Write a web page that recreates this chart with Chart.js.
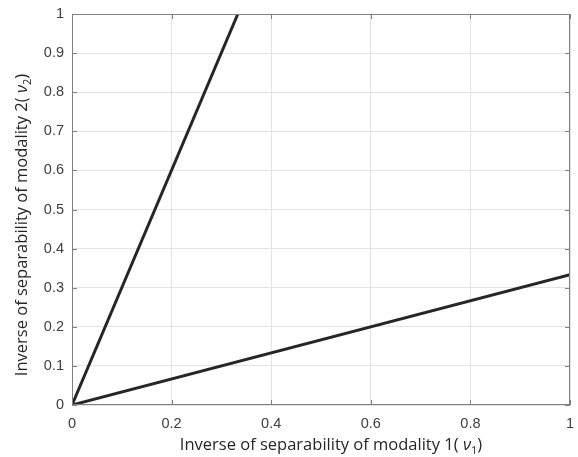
<!DOCTYPE html>
<html>
<head>
<meta charset="utf-8">
<script src="https://cdn.jsdelivr.net/npm/chart.js@4"></script>
<style>
  html, body { margin: 0; padding: 0; background: #fff; }
  #wrap { width: 578px; height: 457px; }
</style>
</head>
<body>
<div id="wrap"><canvas id="chart"></canvas></div>
<script>
// data
const steepX = [0, 0.333];
const steepY = [0, 1];
const flatX = [0, 1];
const flatY = [0, 0.333];
const xTicks = [0, 0.2, 0.4, 0.6, 0.8, 1];
const yTicks = [0, 0.1, 0.2, 0.3, 0.4, 0.5, 0.6, 0.7, 0.8, 0.9, 1];

const xTitle = 'Inverse of separability of modality 1(';
const yTitle = 'Inverse of separability of modality 2(';
const xSub = '1';
const ySub = '2';

const titleFont = '16.5px "Open Sans"';
const nuFont = 'italic 16.5px "Open Sans"';
const subFont = '11px "Open Sans"';

function toPoints(xs, ys) {
  return xs.map((x, i) => ({ x: x, y: ys[i] }));
}

// axis title with an italic nu and a subscript, centered on (0, 0)
function drawTitle(ctx, text, sub) {
  const parts = [
    { t: text, f: titleFont, dy: 0 },
    { t: ' \u03bd', f: nuFont, dy: 0 },
    { t: sub, f: subFont, dy: 4 },
    { t: ')', f: titleFont, dy: 0 },
  ];
  let total = 0;
  parts.forEach((p) => {
    ctx.font = p.f;
    p.w = ctx.measureText(p.t).width;
    total += p.w;
  });
  let x = -total / 2;
  ctx.fillStyle = '#262626';
  ctx.textBaseline = 'alphabetic';
  ctx.textAlign = 'left';
  parts.forEach((p) => {
    ctx.font = p.f;
    ctx.fillText(p.t, x, p.dy);
    x += p.w;
  });
}

const titlePlugin = {
  id: 'titles',
  afterDraw(chart) {
    const ctx = chart.ctx;
    ctx.save();
    ctx.translate(331, 450);
    drawTitle(ctx, xTitle, xSub);
    ctx.restore();

    ctx.save();
    ctx.translate(27, 225);
    ctx.rotate(-Math.PI / 2);
    drawTitle(ctx, yTitle, ySub);
    ctx.restore();
  },
};

// box round the plot plus short inside tick marks
const boxPlugin = {
  id: 'box',
  afterDraw(chart) {
    const { ctx, chartArea: a, scales } = chart;
    ctx.save();
    ctx.strokeStyle = '#808080';
    ctx.lineWidth = 1;
    ctx.strokeRect(a.left + 0.5, a.top + 0.5, a.right - a.left - 1, a.bottom - a.top - 1);
    ctx.beginPath();
    xTicks.forEach((v) => {
      const px = Math.round(scales.x.getPixelForValue(v)) + 0.5;
      ctx.moveTo(px, a.bottom);
      ctx.lineTo(px, a.bottom - 5);
      ctx.moveTo(px, a.top);
      ctx.lineTo(px, a.top + 5);
    });
    yTicks.forEach((v) => {
      const py = Math.round(scales.y.getPixelForValue(v)) + 0.5;
      ctx.moveTo(a.left, py);
      ctx.lineTo(a.left + 5, py);
      ctx.moveTo(a.right, py);
      ctx.lineTo(a.right - 5, py);
    });
    ctx.stroke();
    ctx.restore();
  },
};

const lineStyle = {
  showLine: true,
  borderColor: '#262626',
  borderWidth: 3,
  pointRadius: 0,
  fill: false,
};

new Chart(document.getElementById('chart'), {
  type: 'scatter',
  data: {
    datasets: [
      Object.assign({ data: toPoints(steepX, steepY) }, lineStyle),
      Object.assign({ data: toPoints(flatX, flatY) }, lineStyle),
    ],
  },
  options: {
    responsive: true,
    maintainAspectRatio: false,
    animation: false,
    layout: { padding: { top: 14, right: 8, left: 0, bottom: 0 } },
    plugins: {
      legend: { display: false },
      tooltip: { enabled: false },
    },
    scales: {
      x: {
        type: 'linear',
        min: 0,
        max: 1,
        afterBuildTicks: (s) => { s.ticks = xTicks.map((v) => ({ value: v })); },
        afterFit: (s) => {
          s.height = 52;
          s.paddingLeft = 0;
          s.paddingRight = 0;
        },
        grid: { color: '#e3e3e3', drawTicks: false },
        border: { display: false },
        ticks: {
          color: '#404040',
          font: { family: 'Liberation Sans', size: 14.5 },
          padding: 10,
          maxRotation: 0,
          callback: (v) => String(v),
        },
        title: { display: false },
      },
      y: {
        type: 'linear',
        min: 0,
        max: 1,
        afterBuildTicks: (s) => { s.ticks = yTicks.map((v) => ({ value: v })); },
        afterFit: (s) => {
          s.width = 72;
          s.paddingTop = 0;
          s.paddingBottom = 0;
        },
        grid: { color: '#e3e3e3', drawTicks: false },
        border: { display: false },
        ticks: {
          color: '#404040',
          font: { family: 'Liberation Sans', size: 14.5 },
          padding: 8,
          callback: (v) => String(v),
        },
        title: { display: false },
      },
    },
  },
  plugins: [boxPlugin, titlePlugin],
});
</script>
</body>
</html>
